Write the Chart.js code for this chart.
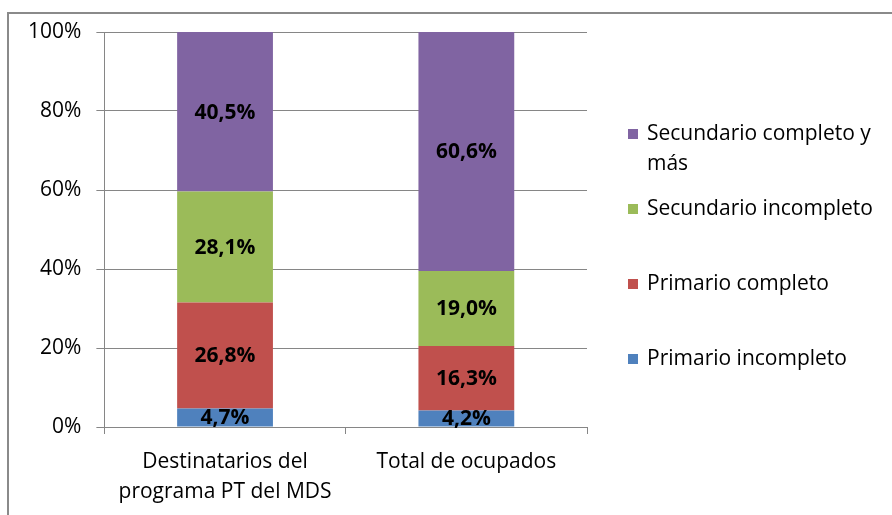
<!DOCTYPE html>
<html>
<head>
<meta charset="utf-8">
<script src="https://cdn.jsdelivr.net/npm/chart.js@4/dist/chart.umd.min.js"></script>
<style>
  html, body { margin: 0; padding: 0; background: #fff; }
  #wrap { width: 892px; height: 515px; position: relative; }
</style>
</head>
<body>
<div id="wrap"><canvas id="chart" width="892" height="515"></canvas></div>
<script>
const categories = [["Destinatarios del", "programa PT del MDS"], "Total de ocupados"];
const seriesNames = ["Primario incompleto", "Primario completo", "Secundario incompleto", "Secundario completo y más"];
const primarioIncompleto = [4.7, 4.2];
const primarioCompleto = [26.8, 16.3];
const secundarioIncompleto = [28.1, 19.0];
const secundarioCompleto = [40.5, 60.6];
const yTicks = [0, 20, 40, 60, 80, 100];

const colors = ["#4F81BD", "#C0504D", "#9BBB59", "#8064A2"];
const FONT = "'Open Sans', 'DejaVu Sans', sans-serif";

const values = [primarioIncompleto, primarioCompleto, secundarioIncompleto, secundarioCompleto];

// frame around the chart
const framePlugin = {
  id: "frame",
  beforeDraw(chart) {
    const ctx = chart.ctx;
    ctx.save();
    ctx.strokeStyle = "#8a8a8a";
    ctx.lineWidth = 2;
    ctx.beginPath();
    ctx.moveTo(8, 520);
    ctx.lineTo(8, 13);
    ctx.lineTo(900, 13);
    ctx.stroke();
    ctx.restore();
  }
};

// value labels inside each segment
const valueLabels = {
  id: "valueLabels",
  afterDatasetsDraw(chart) {
    const ctx = chart.ctx;
    ctx.save();
    ctx.font = "bold 21px " + FONT;
    ctx.fillStyle = "#000";
    ctx.textAlign = "center";
    ctx.textBaseline = "middle";
    chart.data.datasets.forEach((ds, i) => {
      chart.getDatasetMeta(i).data.forEach((bar, j) => {
        const txt = ds.data[j].toFixed(1).replace(".", ",") + "%";
        ctx.fillText(txt, bar.x, (bar.y + bar.base) / 2 + 1);
      });
    });
    ctx.restore();
  }
};

// legend on the right, reversed order
const sideLegend = {
  id: "sideLegend",
  afterDraw(chart) {
    const ctx = chart.ctx;
    const area = chart.chartArea;
    const boxX = area.right + 41;
    const textX = area.right + 60;
    const maxW = chart.width - textX - 4;
    ctx.save();
    ctx.font = "21px " + FONT;
    ctx.textBaseline = "middle";
    const items = chart.data.datasets.slice().reverse();
    items.forEach((ds, k) => {
      const y = area.top + 102 + k * 75;
      ctx.fillStyle = ds.backgroundColor;
      ctx.fillRect(boxX, y - 5, 10, 10);
      // wrap words
      const words = ds.label.split(" ");
      const lines = [];
      let line = "";
      words.forEach(w => {
        const t = line ? line + " " + w : w;
        if (ctx.measureText(t).width > maxW && line) { lines.push(line); line = w; }
        else line = t;
      });
      lines.push(line);
      ctx.fillStyle = "#000";
      lines.forEach((l, n) => ctx.fillText(l, textX, y + n * 30));
    });
    ctx.restore();
  }
};

new Chart(document.getElementById("chart"), {
  type: "bar",
  data: {
    labels: categories,
    datasets: seriesNames.map((name, i) => ({
      label: name,
      data: values[i],
      backgroundColor: colors[i],
      borderWidth: 0,
      categoryPercentage: 1,
      barPercentage: 0.397
    }))
  },
  options: {
    responsive: false,
    animation: false,
    layout: { padding: { left: 13, right: 305, top: 32, bottom: 0 } },
    plugins: {
      legend: { display: false },
      tooltip: { enabled: false }
    },
    scales: {
      x: {
        stacked: true,
        afterFit(axis) { axis.height = 88; },
        grid: { offset: true, drawOnChartArea: false, color: "#868686", tickLength: 7 },
        border: { color: "#868686" },
        ticks: { color: "#000", font: { family: FONT, size: 21, lineHeight: 1.43 }, padding: 13 }
      },
      y: {
        stacked: true,
        min: 0,
        max: 100,
        afterBuildTicks(axis) { axis.ticks = yTicks.map(v => ({ value: v })); },
        grid: { color: "#868686", tickLength: 8 },
        border: { color: "#868686" },
        ticks: {
          color: "#000",
          font: { family: FONT, size: 21 },
          padding: 15,
          callback: v => v + "%"
        }
      }
    }
  },
  plugins: [framePlugin, valueLabels, sideLegend]
});
</script>
</body>
</html>
